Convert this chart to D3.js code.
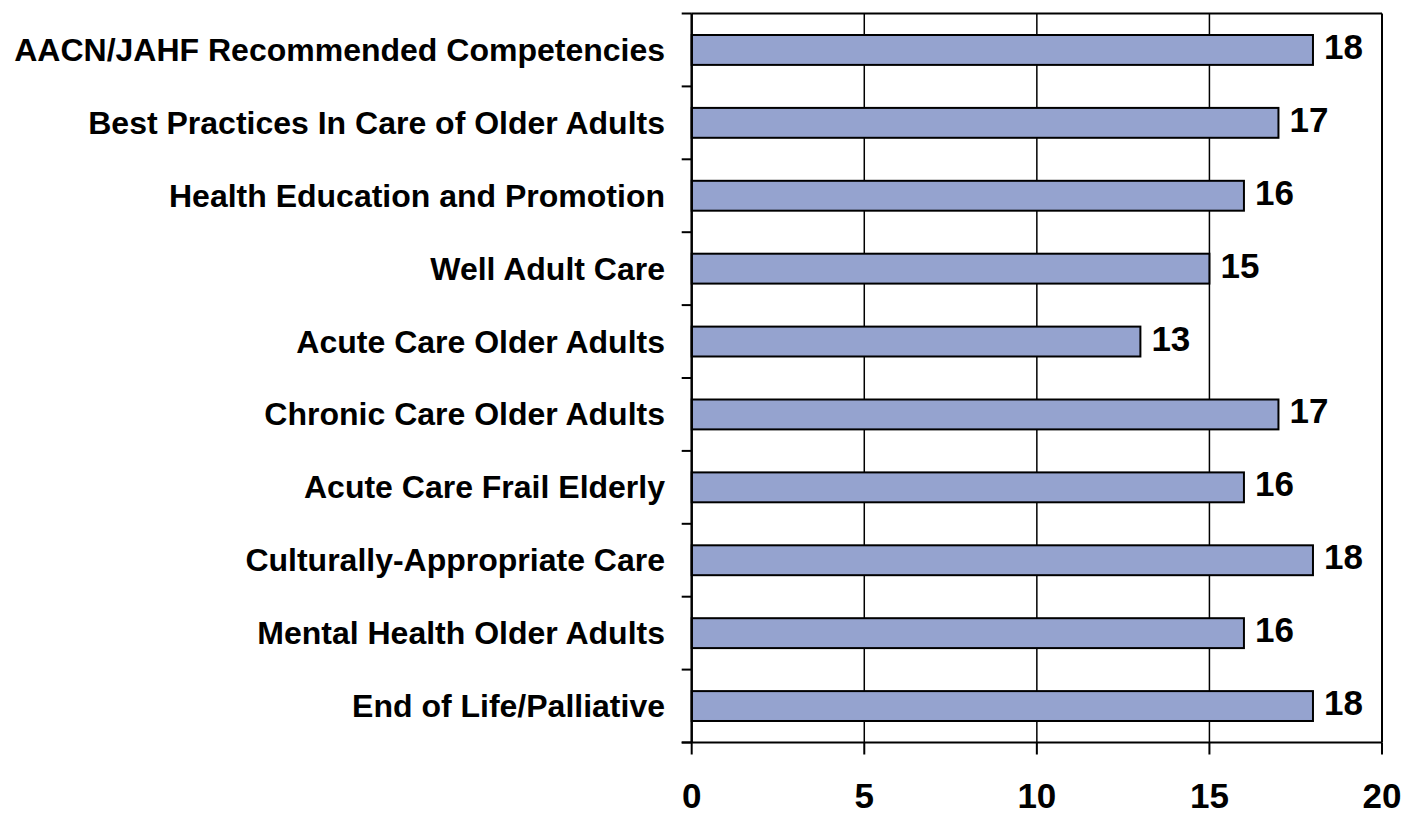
<!DOCTYPE html>
<html>
<head>
<meta charset="utf-8">
<script src="https://cdn.jsdelivr.net/npm/d3@7/dist/d3.min.js"></script>
<style>
  html, body { margin: 0; padding: 0; background: #ffffff; }
  svg { display: block; }
  text { font-family: "Liberation Sans", Arial, sans-serif; font-weight: bold; fill: #000; }
</style>
</head>
<body>
<svg id="chart" width="1406" height="814"></svg>
<script>
const categories = [
  "AACN/JAHF Recommended Competencies",
  "Best Practices In Care of Older Adults",
  "Health Education and Promotion",
  "Well Adult Care",
  "Acute Care Older Adults",
  "Chronic Care Older Adults",
  "Acute Care Frail Elderly",
  "Culturally-Appropriate Care",
  "Mental Health Older Adults",
  "End of Life/Palliative"
];
const values = [18, 17, 16, 15, 13, 17, 16, 18, 16, 18];
const xTicks = [0, 5, 10, 15, 20];

(function () {
const svg = d3.select("#chart");
const pLeft = 691.7, pRight = 1382, pTop = 13.5, pBottom = 742.5;

const x = d3.scaleLinear().domain([0, 20]).range([pLeft, pRight]);
const y = d3.scaleBand().domain(categories).range([pTop, pBottom])
  .paddingInner(0.59).paddingOuter(0.295);
const step = y.step();

// vertical gridlines
svg.append("g").selectAll("line").data(xTicks.filter(t => t > 0 && t < 20)).join("line")
  .attr("x1", d => x(d)).attr("x2", d => x(d))
  .attr("y1", pTop).attr("y2", pBottom)
  .attr("stroke", "#000").attr("stroke-width", 1.5);

// bars
svg.append("g").selectAll("rect").data(categories).join("rect")
  .attr("x", x(0))
  .attr("y", d => y(d))
  .attr("width", (d, i) => x(values[i]) - x(0))
  .attr("height", y.bandwidth())
  .attr("fill", "#95A3CF")
  .attr("stroke", "#000").attr("stroke-width", 2);

// frame: top and right
svg.append("line").attr("x1", pLeft).attr("x2", pRight).attr("y1", pTop).attr("y2", pTop)
  .attr("stroke", "#000").attr("stroke-width", 2);
svg.append("line").attr("x1", pRight).attr("x2", pRight).attr("y1", pTop).attr("y2", pBottom)
  .attr("stroke", "#000").attr("stroke-width", 2);

// y axis (ticks at band boundaries)
const yBounds = d3.range(categories.length + 1).map(i => pTop + i * step);
svg.append("line").attr("x1", pLeft).attr("x2", pLeft).attr("y1", pTop).attr("y2", pBottom)
  .attr("stroke", "#000").attr("stroke-width", 2.5);
svg.append("g").selectAll("line").data(yBounds).join("line")
  .attr("x1", pLeft - 10).attr("x2", pLeft)
  .attr("y1", d => d).attr("y2", d => d)
  .attr("stroke", "#000").attr("stroke-width", 2);

// x axis
svg.append("line").attr("x1", pLeft - 10).attr("x2", pRight).attr("y1", pBottom).attr("y2", pBottom)
  .attr("stroke", "#000").attr("stroke-width", 2);
svg.append("g").selectAll("line").data(xTicks).join("line")
  .attr("x1", d => x(d)).attr("x2", d => x(d))
  .attr("y1", pBottom).attr("y2", pBottom + 12)
  .attr("stroke", "#000").attr("stroke-width", 2);
svg.append("g").selectAll("text").data(xTicks).join("text")
  .attr("x", d => x(d)).attr("y", 808)
  .attr("text-anchor", "middle")
  .style("font-size", "35px")
  .text(d => d);

// category labels
svg.append("g").selectAll("text").data(categories).join("text")
  .attr("x", 665)
  .attr("y", d => y(d) + y.bandwidth() / 2 + 11)
  .attr("text-anchor", "end")
  .style("font-size", "32px")
  .text(d => d);

// value labels
svg.append("g").selectAll("text").data(categories).join("text")
  .attr("x", (d, i) => x(values[i]) + 11)
  .attr("y", d => y(d) + y.bandwidth() / 2 + 9)
  .attr("text-anchor", "start")
  .style("font-size", "35px")
  .text((d, i) => values[i]);
})();
</script>
</body>
</html>
